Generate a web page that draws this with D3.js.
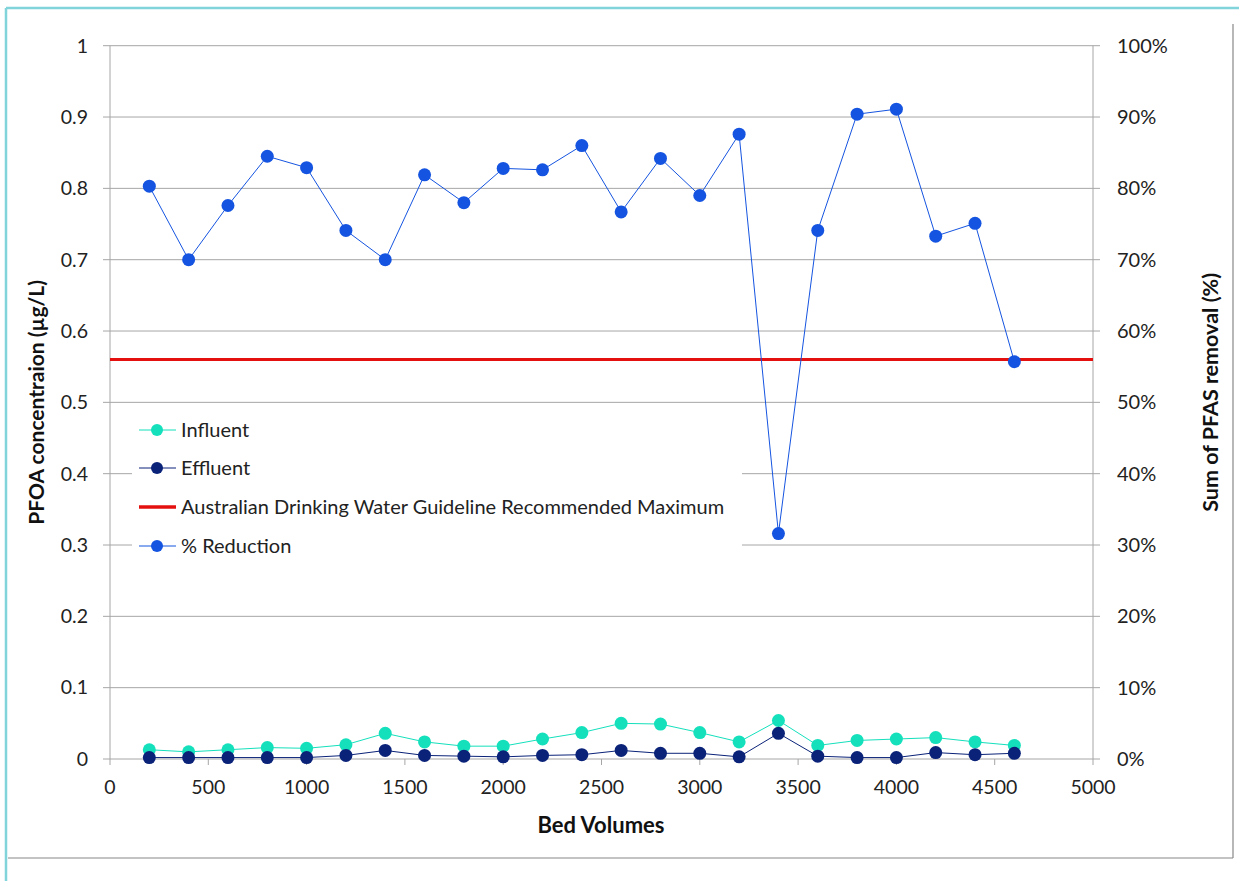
<!DOCTYPE html>
<html>
<head>
<meta charset="utf-8">
<script src="https://cdn.jsdelivr.net/npm/d3@7"></script>
<style>
  body { margin: 0; background: #fff; }
  svg { font-family: Lato, "Open Sans", sans-serif; }
</style>
</head>
<body>
<div id="container"></div>
<script>
/* DATA */
const bedVolumes = [200, 400, 600, 800, 1000, 1200, 1400, 1600, 1800, 2000, 2200, 2400,
  2600, 2800, 3000, 3200, 3400, 3600, 3800, 4000, 4200, 4400, 4600];
const influent = [0.013, 0.010, 0.013, 0.016, 0.015, 0.020, 0.036, 0.024, 0.018, 0.018, 0.028, 0.037,
  0.050, 0.049, 0.037, 0.024, 0.054, 0.019, 0.026, 0.028, 0.030, 0.024, 0.019];
const effluent = [0.002, 0.002, 0.002, 0.002, 0.002, 0.005, 0.012, 0.005, 0.004, 0.003, 0.005, 0.006,
  0.012, 0.008, 0.008, 0.003, 0.036, 0.004, 0.002, 0.002, 0.009, 0.006, 0.008];
const reduction = [80.3, 70.0, 77.6, 84.5, 82.9, 74.1, 70.0, 81.9, 78.0, 82.8, 82.6, 86.0,
  76.7, 84.2, 79.0, 87.6, 31.6, 74.1, 90.4, 91.1, 73.3, 75.1, 55.7];
const guideline = 0.56;
const xTicks = [0, 500, 1000, 1500, 2000, 2500, 3000, 3500, 4000, 4500, 5000];
const yTicks = [0, 0.1, 0.2, 0.3, 0.4, 0.5, 0.6, 0.7, 0.8, 0.9, 1];
const pctTicks = [0, 10, 20, 30, 40, 50, 60, 70, 80, 90, 100];
const legendLabels = ["Influent", "Effluent", "Australian Drinking Water Guideline Recommended Maximum", "% Reduction"];

/* CONSTANTS */
const width = 1239, height = 881;
const plotL = 110, plotR = 1093, plotT = 45.7, plotB = 759;
const cInf = "#14e0bc", cEff = "#0a2278", cRed = "#e41010", cPct = "#1554e0";

const svg = d3.select("#container").append("svg")
  .attr("width", width).attr("height", height);

// frame
svg.append("line").attr("x1", 6).attr("x2", width).attr("y1", 8).attr("y2", 8)
  .attr("stroke", "#80d4da").attr("stroke-width", 2.5);
svg.append("line").attr("x1", 6).attr("x2", 6).attr("y1", 8).attr("y2", height)
  .attr("stroke", "#80d4da").attr("stroke-width", 2.5);
svg.append("line").attr("x1", 1233).attr("x2", 1233).attr("y1", 24).attr("y2", 858)
  .attr("stroke", "#888").attr("stroke-width", 1.2);
svg.append("line").attr("x1", 8).attr("x2", 1233).attr("y1", 858).attr("y2", 858)
  .attr("stroke", "#888").attr("stroke-width", 1.2);

/* SCALES */
const x = d3.scaleLinear().domain([0, 5000]).range([plotL, plotR]);
const y = d3.scaleLinear().domain([0, 1]).range([plotB, plotT]);
const yPct = d3.scaleLinear().domain([0, 100]).range([plotB, plotT]);

// gridlines
svg.append("g").selectAll("line").data(yTicks).join("line")
  .attr("x1", plotL - 7).attr("x2", plotR + 7)
  .attr("y1", d => y(d)).attr("y2", d => y(d))
  .attr("stroke", "#a6a6a6").attr("stroke-width", 1);

// axes lines
svg.append("line").attr("x1", plotL).attr("x2", plotL).attr("y1", plotT).attr("y2", plotB)
  .attr("stroke", "#a6a6a6");
svg.append("line").attr("x1", plotR).attr("x2", plotR).attr("y1", plotT).attr("y2", plotB)
  .attr("stroke", "#a6a6a6");
svg.append("g").selectAll("line").data(xTicks).join("line")
  .attr("x1", d => x(d)).attr("x2", d => x(d))
  .attr("y1", plotB).attr("y2", plotB + 6)
  .attr("stroke", "#a6a6a6");

// tick labels
svg.append("g").selectAll("text").data(yTicks).join("text")
  .attr("x", 88).attr("y", d => y(d)).attr("dy", "0.35em")
  .attr("text-anchor", "end").attr("font-size", 19.5).attr("fill", "#222")
  .text(d => d3.format("~g")(d));
svg.append("g").selectAll("text").data(pctTicks).join("text")
  .attr("x", 1117).attr("y", d => yPct(d)).attr("dy", "0.35em")
  .attr("text-anchor", "start").attr("font-size", 20).attr("fill", "#222")
  .text(d => d + "%");
svg.append("g").selectAll("text").data(xTicks).join("text")
  .attr("x", d => x(d)).attr("y", 794)
  .attr("text-anchor", "middle").attr("font-size", 19.5).attr("fill", "#222")
  .text(d => d);

// axis titles
svg.append("text").attr("x", 601).attr("y", 833).attr("text-anchor", "middle")
  .attr("font-size", 22).attr("font-weight", "bold").attr("fill", "#111").text("Bed Volumes");
svg.append("text").attr("transform", `translate(44, ${(plotT + plotB) / 2}) rotate(-90)`)
  .attr("text-anchor", "middle").attr("font-size", 21).attr("font-weight", "bold").attr("fill", "#111")
  .text("PFOA concentraion (µg/L)");
svg.append("text").attr("transform", `translate(1218, ${(plotT + plotB) / 2 - 10}) rotate(-90)`)
  .attr("text-anchor", "middle").attr("font-size", 21.5).attr("font-weight", "bold").attr("fill", "#111")
  .text("Sum of PFAS removal (%)");

// guideline
svg.append("line").attr("x1", x(0)).attr("x2", x(5000))
  .attr("y1", y(guideline)).attr("y2", y(guideline))
  .attr("stroke", cRed).attr("stroke-width", 3);

/* SERIES */
function drawSeries(vals, yScale, color, r) {
  const pts = bedVolumes.map((b, i) => [b, vals[i]]);
  svg.append("path").datum(pts)
    .attr("d", d3.line().x(d => x(d[0])).y(d => yScale(d[1])))
    .attr("fill", "none").attr("stroke", color).attr("stroke-width", 1);
  svg.append("g").selectAll("circle").data(pts).join("circle")
    .attr("cx", d => x(d[0])).attr("cy", d => yScale(d[1])).attr("r", r)
    .attr("fill", color);
}
drawSeries(influent, y, cInf, 6.5);
drawSeries(effluent, y, cEff, 6.5);

// legend (white box over gridlines)
const lg = svg.append("g");
lg.append("rect").attr("x", 132).attr("y", 412).attr("width", 610).attr("height", 150).attr("fill", "#fff");
const legendRows = [
  { label: legendLabels[0], color: cInf, marker: true, yy: 430 },
  { label: legendLabels[1], color: cEff, marker: true, yy: 468 },
  { label: legendLabels[2], color: cRed, marker: false, yy: 507 },
  { label: legendLabels[3], color: cPct, marker: true, yy: 546 }
];
legendRows.forEach(d => {
  lg.append("line").attr("x1", 139).attr("x2", 176).attr("y1", d.yy).attr("y2", d.yy)
    .attr("stroke", d.color).attr("stroke-width", d.marker ? 1 : 3.5);
  if (d.marker) lg.append("circle").attr("cx", 157).attr("cy", d.yy).attr("r", 6).attr("fill", d.color);
  lg.append("text").attr("x", 181).attr("y", d.yy).attr("dy", "0.35em")
    .attr("font-size", 20).attr("fill", "#222").text(d.label);
});

drawSeries(reduction, yPct, cPct, 6.5);
</script>
</body>
</html>
